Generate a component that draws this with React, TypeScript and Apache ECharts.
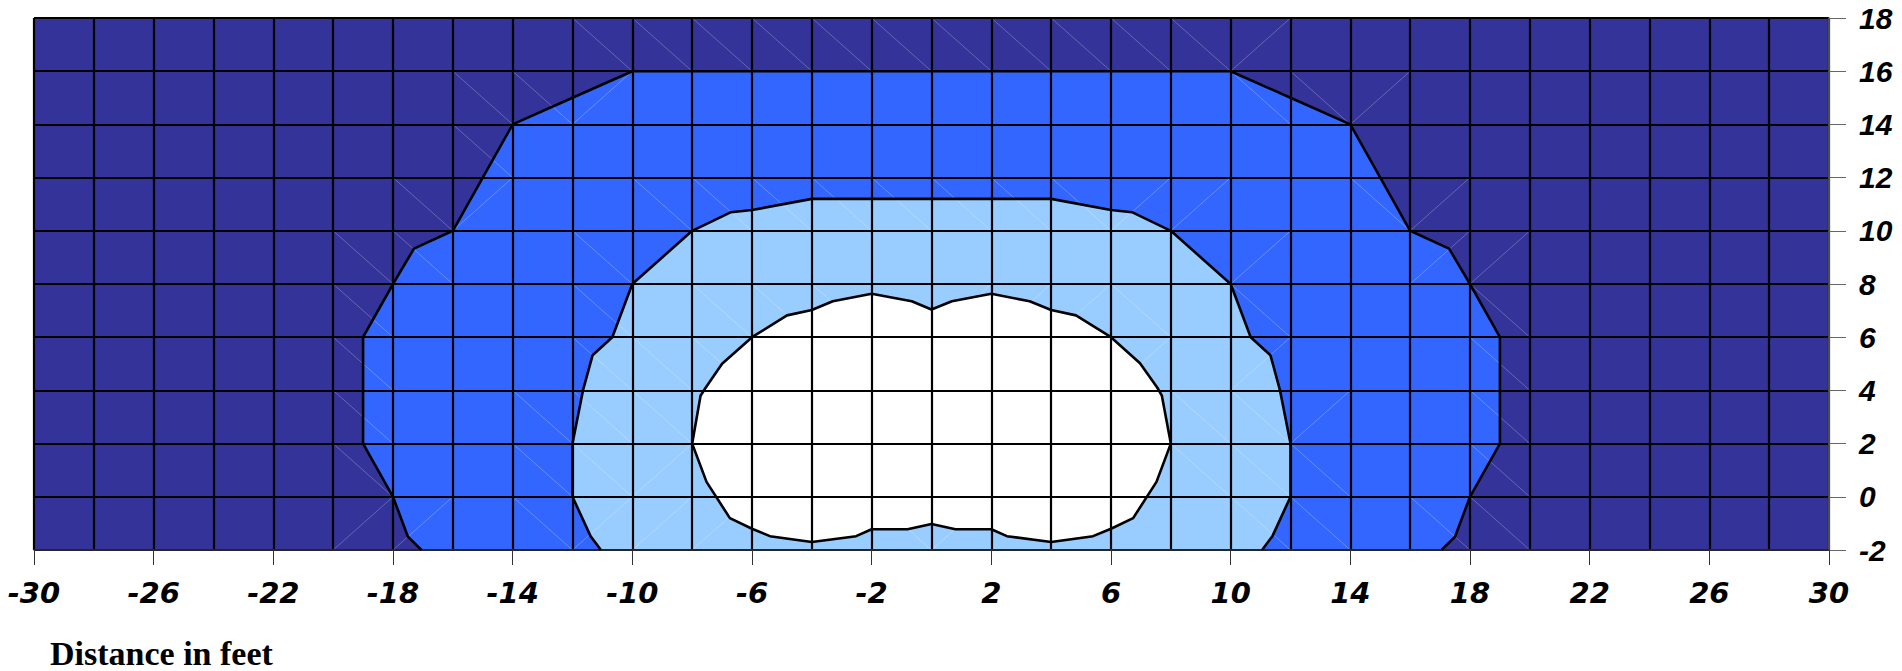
import React, { useEffect, useRef } from "react";
import * as echarts from "echarts";

// Axis ranges and tick labels
const xRange: [number, number] = [-30, 30];
const yRange: [number, number] = [-2, 18];
const xLabelValues = [-30, -26, -22, -18, -14, -10, -6, -2, 2, 6, 10, 14, 18, 22, 26, 30];

// Contour boundaries (data units: feet)
const outerContour: [number, number][] = [
  [-17.05, -2], [-17.5, -1.5], [-18, 0], [-19, 2], [-19, 6], [-18, 8], [-17.3, 9.33], [-16, 10],
  [-15, 12], [-14, 14], [-12, 15], [-10, 16],
  [10, 16], [12, 15], [14, 14], [15, 12], [16, 10], [17.3, 9.33], [18, 8], [19, 6], [19, 2],
  [18, 0], [17.5, -1.5], [17.05, -2],
];

const middleContour: [number, number][] = [
  [-11.05, -2], [-11.4, -1.47], [-12, 0], [-12, 2], [-11.65, 4], [-11.33, 5.32], [-10.67, 6],
  [-10, 8], [-8, 10], [-6.7, 10.7], [-6, 10.78], [-4, 11.2],
  [4, 11.2], [6, 10.78], [6.7, 10.7], [8, 10], [10, 8], [10.67, 6], [11.33, 5.32], [11.65, 4],
  [12, 2], [12, 0], [11.4, -1.47], [11.05, -2],
];

const innerContour: [number, number][] = [
  [-8, 2], [-7.72, 3.8], [-7.55, 4.1], [-7, 5], [-6, 6], [-4.83, 6.82], [-4, 7.02], [-3.3, 7.35],
  [-2, 7.63], [-0.66, 7.35], [0, 7.04], [0.68, 7.35], [2, 7.63], [3.28, 7.35], [4, 7.02],
  [4.83, 6.82], [6, 6], [6.97, 5.02], [7.55, 4.1], [7.7, 3.8], [8, 2],
  [7.52, 0.56], [6.74, -0.8], [6, -1.2], [5.4, -1.48], [4, -1.7], [2.52, -1.48], [2, -1.22],
  [0.8, -1.22], [0, -1.02], [-0.8, -1.22], [-2, -1.22], [-2.52, -1.48], [-4, -1.7],
  [-5.4, -1.48], [-6, -1.2], [-6.74, -0.8], [-7.52, 0.56], [-8, 2],
];

// Triangulation seams: [cell x0, cell y0, direction] (1 = "\", -1 = "/")
const diagonalCells: [number, number, number][] = [
  [-12, 16, 1], [-10, 16, 1], [-8, 16, 1], [-6, 16, 1], [-4, 16, 1], [-2, 16, 1], [0, 16, 1],
  [2, 16, 1], [4, 16, 1], [6, 16, 1], [8, 16, 1], [10, 16, -1],
  [-16, 14, 1], [-14, 14, 1], [-12, 14, -1], [10, 14, 1], [12, 14, 1], [14, 14, -1],
  [-16, 12, 1],
  [-18, 10, 1], [-16, 10, -1], [-10, 10, 1], [-8, 10, 1], [-6, 10, 1], [-4, 10, 1], [-2, 10, 1],
  [0, 10, 1], [2, 10, 1], [4, 10, 1], [6, 10, -1], [8, 10, -1], [14, 10, 1], [16, 10, -1],
  [-20, 8, 1], [-18, 8, 1], [-12, 8, 1], [10, 8, -1], [16, 8, -1], [18, 8, -1],
  [-20, 6, 1], [-12, 6, 1], [-8, 6, 1], [-6, 6, 1], [-4, 6, 1], [0, 6, -1], [2, 6, -1],
  [4, 6, -1], [6, 6, 1], [10, 6, 1], [18, 6, 1],
  [-20, 4, 1], [-12, 4, 1], [-10, 4, 1], [-8, 4, 1], [6, 4, -1], [10, 4, -1], [18, 4, 1],
  [-20, 2, 1], [-14, 2, 1], [-12, 2, 1], [-10, 2, 1], [8, 2, 1], [10, 2, 1], [12, 2, -1], [18, 2, 1],
  [-20, 0, 1], [-14, 0, 1], [-12, 0, 1], [-10, 0, -1], [8, 0, 1], [10, 0, 1], [12, 0, 1], [18, 0, 1],
  [-20, -2, -1], [-18, -2, -1], [-14, -2, 1], [-12, -2, -1], [-10, -2, -1], [-8, -2, -1],
  [-2, -2, 1], [0, -2, -1], [10, -2, 1], [12, -2, 1], [16, -2, 1], [18, -2, 1],
];

const bandColors = { low: "#333399", mid: "#3366FF", high: "#99CCFF", top: "#FFFFFF" };

function polygonSeries(points: [number, number][], fill: string, z: number) {
  return {
    type: "custom",
    silent: true,
    z,
    xAxisIndex: 0,
    yAxisIndex: 0,
    data: [[0, 0]],
    renderItem: (_p: any, api: any) => ({
      type: "polygon",
      shape: { points: points.map((pt) => api.coord(pt)) },
      style: { fill, stroke: "none" },
    }),
  };
}

function contourLine(points: [number, number][]) {
  return {
    type: "line",
    silent: true,
    z: 6,
    xAxisIndex: 0,
    yAxisIndex: 0,
    data: points,
    symbol: "none",
    lineStyle: { color: "#000", width: 2.6 },
  };
}

export default function App() {
  const ref = useRef<HTMLDivElement>(null);

  useEffect(() => {
    if (!ref.current) return;
    const chart = echarts.init(ref.current, null, { renderer: "svg" });
    const option: any = {
      animation: false,
      grid: {
        left: 34,
        top: 18,
        width: 1795,
        height: 532,
        show: true,
        backgroundColor: bandColors.low,
        borderWidth: 0,
      },
      xAxis: [
        {
          type: "value",
          min: xRange[0],
          max: xRange[1],
          interval: 2,
          z: 5,
          axisLine: { show: false, onZero: false },
          axisTick: { show: false },
          axisLabel: { show: false },
          splitLine: { show: true, lineStyle: { color: "#000", width: 2.2 } },
        },
        {
          type: "value",
          min: xRange[0],
          max: xRange[1],
          interval: 2,
          position: "bottom",
          z: 5,
          axisLine: { show: true, onZero: false, lineStyle: { color: "#333", width: 1.5 } },
          axisTick: { show: true, length: 15, customValues: xLabelValues, lineStyle: { color: "#333", width: 1 } },
          axisLabel: {
            fontFamily: "DejaVu Sans, Verdana, sans-serif",
            fontStyle: "italic",
            fontWeight: "bold",
            color: "#000",
            fontSize: 29,
            margin: 28,
            customValues: xLabelValues,
          },
          splitLine: { show: false },
        },
      ],
      yAxis: {
        type: "value",
        min: yRange[0],
        max: yRange[1],
        interval: 2,
        position: "right",
        z: 5,
        axisLine: { show: true, onZero: false, lineStyle: { color: "#666", width: 1.5 } },
        axisTick: { show: true, length: 17, lineStyle: { color: "#666", width: 1 } },
        axisLabel: {
          fontFamily: "Liberation Sans, Arial, sans-serif",
          fontStyle: "italic",
          fontWeight: "bold",
          color: "#000",
          fontSize: 30,
          margin: 30,
        },
        splitLine: { show: true, lineStyle: { color: "#000", width: 2.2 } },
      },
      graphic: [
        {
          type: "text",
          left: 50,
          top: 636,
          style: {
            text: "Distance in feet",
            font: 'bold 34px "Liberation Serif", "Times New Roman", serif',
            lineHeight: 26,
            fill: "#000",
          },
        },
      ],
      series: [
        polygonSeries(outerContour, bandColors.mid, 2),
        polygonSeries(middleContour, bandColors.high, 2),
        polygonSeries(innerContour, bandColors.top, 2),
        {
          type: "custom",
          silent: true,
          z: 3,
          xAxisIndex: 0,
          yAxisIndex: 0,
          data: diagonalCells,
          renderItem: (_p: any, api: any) => {
            const x0 = api.value(0);
            const y0 = api.value(1);
            const d = api.value(2);
            const a = d === 1 ? api.coord([x0, y0 + 2]) : api.coord([x0, y0]);
            const b = d === 1 ? api.coord([x0 + 2, y0]) : api.coord([x0 + 2, y0 + 2]);
            return {
              type: "line",
              shape: { x1: a[0], y1: a[1], x2: b[0], y2: b[1] },
              style: { stroke: "rgba(255,255,255,0.25)", lineWidth: 1 },
            };
          },
        },
        contourLine(outerContour),
        contourLine(middleContour),
        contourLine(innerContour),
      ],
    };
    chart.setOption(option);
    return () => chart.dispose();
  }, []);

  return (
    <div
      ref={ref}
      style={{ position: "absolute", left: 0, top: 0, width: 1902, height: 671 }}
    />
  );
}
